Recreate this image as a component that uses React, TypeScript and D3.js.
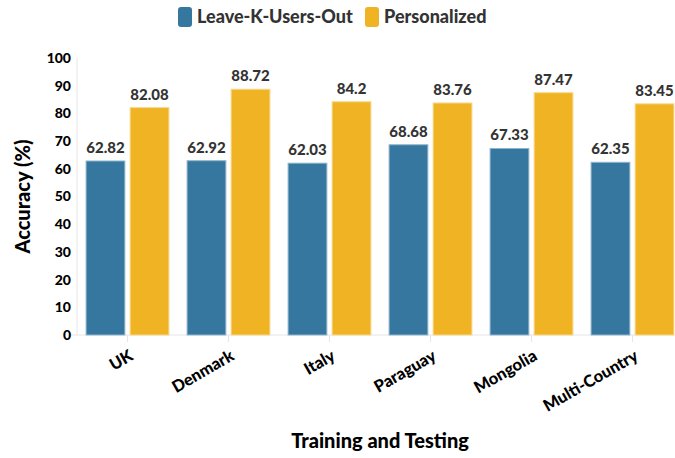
import React, { useEffect, useRef } from 'react';
import * as d3 from 'd3';

const categories = ['UK', 'Denmark', 'Italy', 'Paraguay', 'Mongolia', 'Multi-Country'];
const seriesNames = ['Leave-K-Users-Out', 'Personalized'];
const leaveOut = [62.82, 62.92, 62.03, 68.68, 67.33, 62.35];
const personalized = [82.08, 88.72, 84.2, 83.76, 87.47, 83.45];
const yTicks = [0, 10, 20, 30, 40, 50, 60, 70, 80, 90, 100];

const colors = ['#36779f', '#efb323'];
const strokes = ['#8fb5cc', '#f7d88a'];
const FONT = 'Lato, "Open Sans", sans-serif';
const HEAVY = 900;

const App = () => {
  const svgRef = useRef<SVGSVGElement>(null);

  useEffect(() => {
    const svg = d3.select(svgRef.current);
    svg.selectAll('*').remove();

    const W = 675, H = 458;
    const left = 77, right = 683, top = 58, bottom = 335;

    const x0 = d3.scaleBand<string>().domain(categories).range([left, right])
      .paddingInner(0.18).paddingOuter(0.09);
    const x1 = d3.scaleBand<string>().domain(seriesNames).range([0, x0.bandwidth()])
      .paddingInner(0.12);
    const y = d3.scaleLinear().domain([0, 100]).range([bottom, top]);

    const rows = categories.map((c, i) => ({ cat: c, vals: [leaveOut[i], personalized[i]] }));

    // axis lines
    svg.append('line').attr('x1', left).attr('x2', left).attr('y1', top).attr('y2', bottom)
      .attr('stroke', '#e6e6e6');
    svg.append('line').attr('x1', left - 6).attr('x2', right).attr('y1', bottom).attr('y2', bottom)
      .attr('stroke', '#e6e6e6');

    // y ticks
    svg.append('g').selectAll('text').data(yTicks).join('text')
      .attr('x', left - 6).attr('y', d => y(d)).attr('dy', '0.35em')
      .attr('text-anchor', 'end').attr('font-family', FONT).attr('font-weight', HEAVY)
      .attr('font-size', 14).attr('fill', '#000').text(d => d);

    // x ticks
    const xt = svg.append('g').selectAll('g').data(categories).join('g')
      .attr('transform', d => `translate(${x0(d)! + x0.bandwidth() / 2},${bottom})`);
    xt.append('line').attr('y1', 0).attr('y2', 7).attr('stroke', '#e6e6e6');
    xt.append('text').attr('transform', 'translate(1,14) rotate(-30)')
      .attr('text-anchor', 'end').attr('dy', '0.7em')
      .attr('font-family', FONT).attr('font-weight', HEAVY).attr('font-size', 16.5)
      .attr('fill', '#000').text(d => d);

    // bars
    const groups = svg.append('g').selectAll('g').data(rows).join('g')
      .attr('transform', d => `translate(${x0(d.cat)},0)`);
    groups.selectAll('rect').data(d => d.vals.map((v, j) => ({ v, s: seriesNames[j], j })))
      .join('rect')
      .attr('x', d => x1(d.s)!).attr('width', x1.bandwidth())
      .attr('y', d => y(d.v)).attr('height', d => bottom - y(d.v))
      .attr('fill', d => colors[d.j]).attr('stroke', d => strokes[d.j]).attr('stroke-width', 1);
    groups.selectAll('text').data(d => d.vals.map((v, j) => ({ v, s: seriesNames[j] })))
      .join('text')
      .attr('x', d => x1(d.s)! + x1.bandwidth() / 2).attr('y', d => y(d.v) - 8)
      .attr('text-anchor', 'middle').attr('font-family', FONT).attr('font-weight', HEAVY)
      .attr('font-size', 15).attr('fill', '#333').text(d => d.v);

    // axis titles
    svg.append('text').attr('transform', `translate(30,${(top + bottom) / 2}) rotate(-90)`)
      .attr('text-anchor', 'middle').attr('font-family', FONT).attr('font-weight', HEAVY)
      .attr('font-size', 20).attr('fill', '#000').text('Accuracy (%)');
    svg.append('text').attr('x', (left + right) / 2).attr('y', 448)
      .attr('text-anchor', 'middle').attr('font-family', FONT).attr('font-weight', HEAVY)
      .attr('font-size', 20).attr('fill', '#000').text('Training and Testing');

    // legend
    const legendX = [178, 365];
    const lg = svg.append('g').selectAll('g').data(seriesNames).join('g')
      .attr('transform', (d, i) => `translate(${legendX[i]},7)`);
    lg.append('rect').attr('width', 14).attr('height', 20).attr('rx', 3)
      .attr('fill', (d, i) => colors[i]);
    lg.append('text').attr('x', 19).attr('y', 10).attr('dy', '0.35em')
      .attr('font-family', FONT).attr('font-weight', HEAVY).attr('font-size', 18)
      .attr('fill', '#333').text(d => d);

    svg.attr('width', W).attr('height', H);
  }, []);

  return (
    <svg ref={svgRef} width={675} height={458}
      style={{ position: 'absolute', left: 0, top: 0, background: '#fff' }} />
  );
};

export default App;
